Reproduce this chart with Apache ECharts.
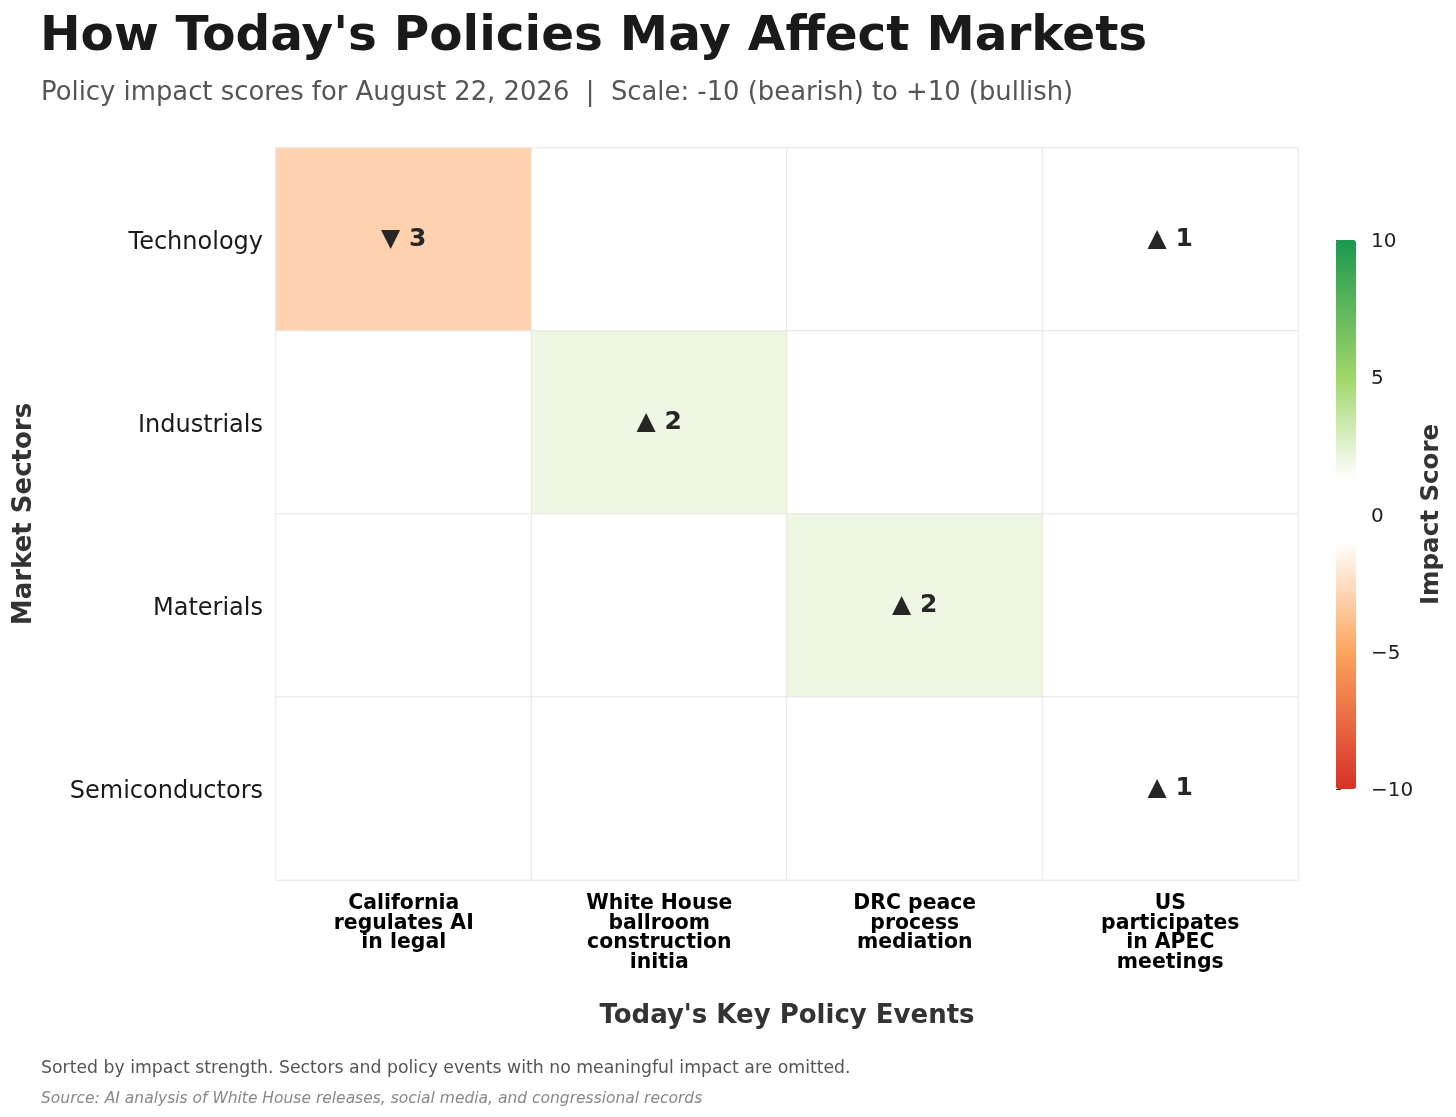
<!DOCTYPE html>
<html>
<head>
<meta charset="utf-8">
<title>How Today's Policies May Affect Markets</title>
<script src="https://cdn.jsdelivr.net/npm/echarts@6/dist/echarts.min.js"></script>
<style>
  html, body { margin: 0; padding: 0; background: #fff; }
  #chart { width: 1456px; height: 1117px; }
</style>
</head>
<body>
<div id="chart"></div>
<script>
// 数据
var events = [
    'California\nregulates AI\nin legal',
    'White House\nballroom\nconstruction\ninitia',
    'DRC peace\nprocess\nmediation',
    'US\nparticipates\nin APEC\nmeetings'
];
var sectors = ['Technology', 'Industrials', 'Materials', 'Semiconductors'];
// one row per sector, one column per event
var scores = [
    [-3, 0, 0, 1],
    [0, 2, 0, 0],
    [0, 0, 2, 0],
    [0, 0, 0, 1]
];
var scaleTicks = [-10, -5, 0, 5, 10];

var FONT = 'DejaVu Sans';

// 色带：红 -> 橙 -> 白 -> 绿
var anchors = [
    [-10, '#d73027'],
    [-5, '#fca55d'],
    [-1, '#ffffff'],
    [1.3, '#ffffff'],
    [5, '#a0d669'],
    [10, '#1a9850']
];
function hexToRgb(h) {
    return [parseInt(h.substr(1, 2), 16), parseInt(h.substr(3, 2), 16), parseInt(h.substr(5, 2), 16)];
}
function colorAt(v) {
    for (var i = 0; i < anchors.length - 1; i++) {
        var a = anchors[i], b = anchors[i + 1];
        if (v >= a[0] && v <= b[0]) {
            var t = (v - a[0]) / (b[0] - a[0]);
            var ca = hexToRgb(a[1]), cb = hexToRgb(b[1]);
            var c = ca.map(function(x, k) { return Math.round(x + (cb[k] - x) * t); });
            return 'rgb(' + c.join(',') + ')';
        }
    }
    return anchors[anchors.length - 1][1];
}
var rampColors = [];
for (var s = 0; s <= 80; s++) {
    rampColors.push(colorAt(-10 + s * 0.25));
}

var cells = [];
scores.forEach(function(row, r) {
    row.forEach(function(v, c) {
        cells.push([c, r, v]);
    });
});

(function() {
    var myChart = echarts.init(document.getElementById('chart'));
    var option = {
        backgroundColor: '#fff',
        animation: false,
        title: [{
            text: "How Today's Policies May Affect Markets",
            left: 35,
            top: 8,
            textStyle: { fontFamily: FONT, fontSize: 48.5, fontWeight: 'bold', color: '#1a1a1a' }
        }, {
            text: 'Policy impact scores for August 22, 2026  |  Scale: -10 (bearish) to +10 (bullish)',
            left: 36,
            top: 75,
            textStyle: { fontFamily: FONT, fontSize: 25.85, fontWeight: 'normal', color: '#555' }
        }, {
            text: 'Sorted by impact strength. Sectors and policy events with no meaningful impact are omitted.',
            left: 36,
            top: 1055,
            textStyle: { fontFamily: FONT, fontSize: 17.3, fontWeight: 'normal', color: '#555' }
        }, {
            text: 'Source: AI analysis of White House releases, social media, and congressional records',
            left: 36,
            top: 1086,
            textStyle: { fontFamily: FONT, fontSize: 15.5, fontWeight: 'normal', fontStyle: 'italic', color: '#888' }
        }],
        grid: [{
            left: 276, top: 148, width: 1022, height: 732
        }, {
            // 色条刻度
            left: 1336, top: 240, width: 20, height: 549
        }],
        xAxis: [{
            type: 'category',
            data: events,
            position: 'bottom',
            axisLine: { show: false },
            axisTick: { show: false },
            splitLine: { show: false },
            axisLabel: {
                interval: 0,
                margin: 14,
                fontFamily: FONT,
                fontSize: 20.4,
                fontWeight: 'bold',
                color: '#000',
                lineHeight: 19.5
            },
            name: "Today's Key Policy Events",
            nameLocation: 'middle',
            nameGap: 123,
            nameTextStyle: { fontFamily: FONT, fontSize: 26, fontWeight: 'bold', color: '#333' }
        }, {
            gridIndex: 1,
            type: 'value',
            show: false
        }],
        yAxis: [{
            type: 'category',
            data: sectors,
            inverse: true,
            axisLine: { show: false },
            axisTick: { show: false },
            splitLine: { show: false },
            axisLabel: {
                margin: 13,
                fontFamily: FONT,
                fontSize: 24,
                color: '#1a1a1a',
                verticalAlign: 'top',
                lineHeight: 6
            },
            name: 'Market Sectors',
            nameLocation: 'middle',
            nameGap: 239,
            nameRotate: 90,
            nameTextStyle: { fontFamily: FONT, fontSize: 26, fontWeight: 'bold', color: '#333' }
        }, {
            gridIndex: 1,
            type: 'value',
            position: 'right',
            min: scaleTicks[0],
            max: scaleTicks[scaleTicks.length - 1],
            interval: 5,
            axisLine: { show: false },
            axisTick: { show: true, length: 5, lineStyle: { color: '#333', width: 1 } },
            splitLine: { show: false },
            axisLabel: {
                margin: 15,
                fontFamily: FONT,
                fontSize: 20,
                color: '#222',
                verticalAlign: 'top',
                lineHeight: 4,
                formatter: function(v) { return String(v).replace('-', '\u2212'); }
            },
            name: 'Impact Score',
            nameLocation: 'middle',
            nameGap: 63,
            nameRotate: 90,
            nameTextStyle: { fontFamily: FONT, fontSize: 24.5, fontWeight: 'bold', color: '#333' }
        }],
        visualMap: {
            type: 'continuous',
            seriesIndex: 0,
            min: scaleTicks[0],
            max: scaleTicks[scaleTicks.length - 1],
            orient: 'vertical',
            left: 1336,
            top: 240,
            itemWidth: 20,
            itemHeight: 549,
            padding: 0,
            calculable: false,
            hoverLink: false,
            text: null,
            showLabel: false,
            inRange: { color: rampColors }
        },
        series: [{
            type: 'heatmap',
            xAxisIndex: 0,
            yAxisIndex: 0,
            data: cells,
            itemStyle: { borderColor: '#e6e6e6', borderWidth: 1 },
            label: {
                show: true,
                fontFamily: FONT,
                fontSize: 25,
                fontWeight: 'bold',
                color: '#262626',
                formatter: function(p) {
                    var v = p.value[2];
                    if (v === 0) return '';
                    return (v > 0 ? '\u25B2 ' : '\u25BC ') + Math.abs(v);
                }
            },
            emphasis: { disabled: true }
        }]
    };
    myChart.setOption(option);
    window.addEventListener('resize', function() {
        myChart.resize();
    });
})();
</script>
</body>
</html>
